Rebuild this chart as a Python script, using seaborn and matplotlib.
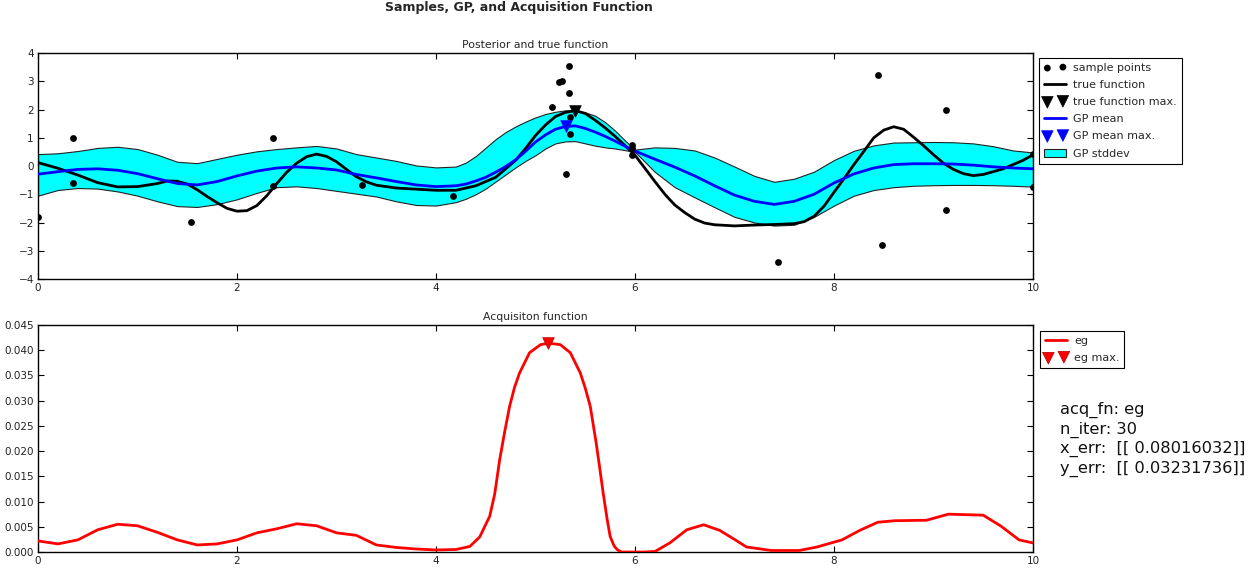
import numpy as np
import pandas as pd
import matplotlib
matplotlib.use("Agg")
import matplotlib.pyplot as plt
import seaborn as sns

# ---------------- data ----------------
true_x = [0.0, 0.2, 0.4, 0.6, 0.8, 1.0, 1.2, 1.3, 1.4, 1.5, 1.6, 1.7, 1.8, 1.9,
          2.0, 2.1, 2.2, 2.3, 2.4, 2.5, 2.6, 2.7, 2.8, 2.9, 3.0, 3.1, 3.2, 3.3,
          3.4, 3.6, 3.8, 4.0, 4.2, 4.4, 4.6, 4.8, 4.9, 5.0, 5.1, 5.2, 5.3, 5.4,
          5.5, 5.6, 5.7, 5.8, 5.9, 6.0, 6.1, 6.2, 6.3, 6.4, 6.5, 6.6, 6.7, 6.8,
          7.0, 7.2, 7.4, 7.6, 7.7, 7.8, 7.9, 8.0, 8.1, 8.2, 8.3, 8.4, 8.5, 8.6,
          8.7, 8.8, 8.9, 9.0, 9.1, 9.2, 9.3, 9.4, 9.5, 9.6, 9.7, 9.8, 9.9, 10.0]
true_y = [0.12, -0.08, -0.32, -0.59, -0.74, -0.73, -0.62, -0.53, -0.54, -0.64, -0.84, -1.08, -1.30, -1.50,
          -1.60, -1.58, -1.40, -1.05, -0.62, -0.22, 0.10, 0.33, 0.42, 0.34, 0.15, -0.12, -0.38, -0.56,
          -0.68, -0.78, -0.82, -0.86, -0.86, -0.70, -0.40, 0.20, 0.62, 1.08, 1.45, 1.75, 1.90, 1.96,
          1.86, 1.62, 1.35, 1.05, 0.72, 0.38, -0.08, -0.55, -1.00, -1.38, -1.65, -1.88, -2.02, -2.08,
          -2.12, -2.09, -2.07, -2.04, -1.97, -1.78, -1.42, -0.93, -0.45, 0.05, 0.52, 1.00, 1.27, 1.39,
          1.30, 1.02, 0.72, 0.40, 0.10, -0.12, -0.27, -0.34, -0.30, -0.20, -0.10, 0.05, 0.20, 0.40]

band_x = [0.0, 0.2, 0.4, 0.6, 0.8, 1.0, 1.2, 1.4, 1.6, 1.8,
          2.0, 2.2, 2.4, 2.6, 2.8, 3.0, 3.2, 3.4, 3.6, 3.8,
          4.0, 4.2, 4.3, 4.4, 4.5, 4.6, 4.7, 4.8, 4.9, 5.0,
          5.1, 5.2, 5.3, 5.4, 5.5, 5.6, 5.7, 5.8, 5.9, 6.0,
          6.2, 6.4, 6.6, 6.8, 7.0, 7.2, 7.4, 7.6, 7.8,
          8.0, 8.2, 8.4, 8.6, 8.8, 9.0, 9.2, 9.4, 9.6, 9.8, 10.0]

gp_mean = [-0.29, -0.20, -0.12, -0.10, -0.15, -0.27, -0.45, -0.62, -0.67, -0.55,
           -0.35, -0.18, -0.07, -0.03, -0.07, -0.14, -0.30, -0.42, -0.55, -0.67,
           -0.73, -0.70, -0.64, -0.53, -0.40, -0.22, -0.02, 0.22, 0.52, 0.85,
           1.10, 1.30, 1.40, 1.42, 1.33, 1.20, 1.05, 0.88, 0.70, 0.53,
           0.24, -0.04, -0.35, -0.70, -1.03, -1.25, -1.36, -1.25, -1.00,
           -0.60, -0.28, -0.07, 0.05, 0.08, 0.08, 0.07, 0.03, -0.03, -0.07, -0.10]

gp_upper = [0.42, 0.45, 0.53, 0.64, 0.68, 0.60, 0.40, 0.15, 0.10, 0.25,
            0.40, 0.52, 0.60, 0.66, 0.71, 0.62, 0.42, 0.30, 0.18, 0.02,
            -0.05, -0.02, 0.12, 0.35, 0.65, 0.95, 1.20, 1.40, 1.57, 1.72,
            1.84, 1.92, 1.97, 1.96, 1.90, 1.78, 1.55, 1.25, 0.90, 0.58,
            0.66, 0.64, 0.55, 0.30, -0.02, -0.35, -0.56, -0.45, -0.20,
            0.21, 0.54, 0.73, 0.83, 0.84, 0.85, 0.84, 0.80, 0.70, 0.55, 0.48]

gp_lower = [-1.05, -0.85, -0.78, -0.80, -0.90, -1.05, -1.25, -1.42, -1.45, -1.35,
            -1.18, -0.95, -0.75, -0.72, -0.78, -0.88, -0.98, -1.08, -1.25, -1.38,
            -1.40, -1.28, -1.16, -1.00, -0.80, -0.55, -0.30, -0.05, 0.18, 0.38,
            0.62, 0.80, 0.87, 0.88, 0.80, 0.72, 0.66, 0.62, 0.56, 0.50,
            -0.21, -0.75, -1.11, -1.46, -1.80, -2.00, -2.11, -2.08, -1.80,
            -1.40, -1.05, -0.85, -0.75, -0.70, -0.68, -0.67, -0.67, -0.68, -0.70, -0.73]

sample_x = [0.0, 0.35, 0.35, 1.54, 2.36, 2.36, 3.26, 4.17, 5.17, 5.24, 5.27,
            5.34, 5.34, 5.35, 5.35, 5.31, 5.97, 5.97, 5.97, 7.44, 8.44, 8.48,
            9.13, 9.13, 10.0, 10.0]
sample_y = [-1.80, 1.00, -0.60, -1.98, 1.00, -0.70, -0.67, -1.05, 2.08, 2.98, 3.02,
            3.53, 2.58, 1.72, 1.12, -0.28, 0.74, 0.63, 0.39, -3.40, 3.22, -2.80,
            1.98, -1.56, -0.74, 0.42]

true_max_x, true_max_y = [5.40], [1.95]
gp_max_x, gp_max_y = [5.31], [1.42]

acq_x = [0.0, 0.2, 0.4, 0.6, 0.8, 1.0, 1.2, 1.4, 1.6, 1.8,
         2.0, 2.2, 2.4, 2.6, 2.8, 3.0, 3.2, 3.4, 3.6, 3.8,
         4.0, 4.2, 4.34, 4.44, 4.54, 4.59, 4.64, 4.69, 4.74, 4.79,
         4.84, 4.94, 5.05, 5.13, 5.25, 5.35, 5.45, 5.50, 5.55, 5.61,
         5.65, 5.68, 5.72, 5.75, 5.79, 5.82, 5.86, 6.0, 6.1, 6.2,
         6.35, 6.52, 6.69, 6.85, 7.0, 7.12, 7.37, 7.65, 7.83,
         8.08, 8.26, 8.44, 8.61, 8.93, 9.15, 9.5, 9.68, 9.86, 10.0]
acq_y = [0.0022, 0.0016, 0.0024, 0.0044, 0.0055, 0.0052, 0.0039, 0.0024, 0.0014, 0.0016,
         0.0024, 0.0038, 0.0046, 0.0056, 0.0052, 0.0038, 0.0033, 0.0014, 0.0009, 0.0006,
         0.0004, 0.0005, 0.0011, 0.0030, 0.0071, 0.0115, 0.0183, 0.0238, 0.0289, 0.0327,
         0.0355, 0.0395, 0.0411, 0.0414, 0.0411, 0.0395, 0.0355, 0.0325, 0.0289, 0.0216,
         0.0160, 0.0117, 0.0065, 0.0031, 0.0012, 0.0005, 0.0000, 0.0000, 0.0000, 0.0001,
         0.0018, 0.0044, 0.0054, 0.0043, 0.0025, 0.0010, 0.0003, 0.0003, 0.0010,
         0.0024, 0.0043, 0.0059, 0.0062, 0.0063, 0.0075, 0.0073, 0.0051, 0.0024, 0.0018]

acq_max_x, acq_max_y = [5.13], [0.0414]

info_text = "acq_fn: eg\nn_iter: 30\nx_err:  [[ 0.08016032]]\ny_err:  [[ 0.03231736]]"

# ---------------- styling ----------------
sns.set_theme(style="white")
plt.rcParams["font.family"] = ["DejaVu Sans"]
plt.rcParams.update({
    "axes.edgecolor": "black",
    "axes.linewidth": 1.0,
    "xtick.direction": "in",
    "ytick.direction": "in",
    "xtick.top": True,
    "ytick.right": True,
    "xtick.bottom": True,
    "ytick.left": True,
    "xtick.major.size": 4,
    "ytick.major.size": 4,
    "xtick.major.width": 0.8,
    "ytick.major.width": 0.8,
    "xtick.color": "black",
    "ytick.color": "black",
    "xtick.labelcolor": "#222222",
    "ytick.labelcolor": "#222222",
    "xtick.labelsize": 7.5,
    "ytick.labelsize": 7.5,
    "xtick.major.pad": 3,
    "ytick.major.pad": 3,
    "lines.solid_joinstyle": "round",
})

W, H = 1256, 571
fig = plt.figure(figsize=(W / 100, H / 100), dpi=100)
ax1 = fig.add_axes([38 / W, 1 - 279 / H, 995 / W, 226 / H])
ax2 = fig.add_axes([38 / W, 1 - 552 / H, 995 / W, 227 / H])

# ---- top: posterior ----
df_band = pd.DataFrame({"x": band_x, "mean": gp_mean, "upper": gp_upper, "lower": gp_lower})
df_true = pd.DataFrame({"x": true_x, "y": true_y})
ax1.fill_between(df_band["x"], df_band["lower"], df_band["upper"],
                 facecolor="cyan", edgecolor="#222222", linewidth=0.8,
                 label="GP stddev", zorder=1)
sns.scatterplot(x=sample_x, y=sample_y, ax=ax1, color="black", s=24,
                edgecolor="black", linewidth=0, label="sample points", zorder=4)
sns.lineplot(data=df_true, x="x", y="y", ax=ax1, color="black", lw=2,
             label="true function", sort=False, zorder=3)
sns.scatterplot(x=true_max_x, y=true_max_y, ax=ax1, color="black", marker="v",
                s=70, edgecolor="black", linewidth=0.5, label="true function max.", zorder=5)
sns.lineplot(data=df_band, x="x", y="mean", ax=ax1, color="blue", lw=2,
             label="GP mean", sort=False, zorder=3)
sns.scatterplot(x=gp_max_x, y=gp_max_y, ax=ax1, color="blue", marker="v",
                s=70, edgecolor="blue", linewidth=0.5, label="GP mean max.", zorder=5)

ax1.set_xlim(0, 10)
ax1.set_ylim(-4, 4)
ax1.set_xticks([0, 2, 4, 6, 8, 10])
ax1.set_yticks([-4, -3, -2, -1, 0, 1, 2, 3, 4])
ax1.set_xlabel("")
ax1.set_ylabel("")
ax1.set_title("Posterior and true function", fontsize=7.8, pad=3.5)

h, l = ax1.get_legend_handles_labels()
order = ["sample points", "true function", "true function max.",
         "GP mean", "GP mean max.", "GP stddev"]
hd = dict(zip(l, h))
leg_kw = dict(fontsize=8, scatterpoints=2, handlelength=2.0, handletextpad=0.6,
              borderpad=0.45, labelspacing=0.64, borderaxespad=0.0,
              fancybox=False, frameon=True, framealpha=1)
leg1 = ax1.legend([hd[k] for k in order], order, loc="upper left",
                  bbox_to_anchor=(1039 / W, 1 - 58 / H), bbox_transform=fig.transFigure,
                  **leg_kw)
leg1.get_frame().set_edgecolor("black")
leg1.get_frame().set_linewidth(0.8)

# ---- bottom: acquisition ----
df_acq = pd.DataFrame({"x": acq_x, "y": acq_y})
sns.lineplot(data=df_acq, x="x", y="y", ax=ax2, color="red", lw=2,
             label="eg", sort=False, zorder=3)
sns.scatterplot(x=acq_max_x, y=acq_max_y, ax=ax2, color="red", marker="v",
                s=70, edgecolor="#aa0000", linewidth=0.5, label="eg max.", zorder=5)
ax2.set_xlim(0, 10)
ax2.set_ylim(0, 0.045)
ax2.set_xticks([0, 2, 4, 6, 8, 10])
ax2.set_yticks(np.arange(0, 0.0451, 0.005))
ax2.yaxis.set_major_formatter(matplotlib.ticker.FormatStrFormatter("%.3f"))
ax2.set_xlabel("")
ax2.set_ylabel("")
ax2.set_title("Acquisiton function", fontsize=7.8, pad=3.5)
leg2 = ax2.legend(loc="upper left", bbox_to_anchor=(1040 / W, 1 - 331 / H),
                  bbox_transform=fig.transFigure, **leg_kw)
leg2.get_frame().set_edgecolor("black")
leg2.get_frame().set_linewidth(0.8)

fig.text(385 / W, 1 - 7 / H, "Samples, GP, and Acquisition Function",
         ha="left", va="center", fontsize=9.0, fontweight="bold")
fig.text(1060 / W, 1 - 402 / H, info_text, ha="left", va="top",
         fontsize=11.7, linespacing=1.27, color="#111111")

fig.savefig("out.png", dpi=100)
